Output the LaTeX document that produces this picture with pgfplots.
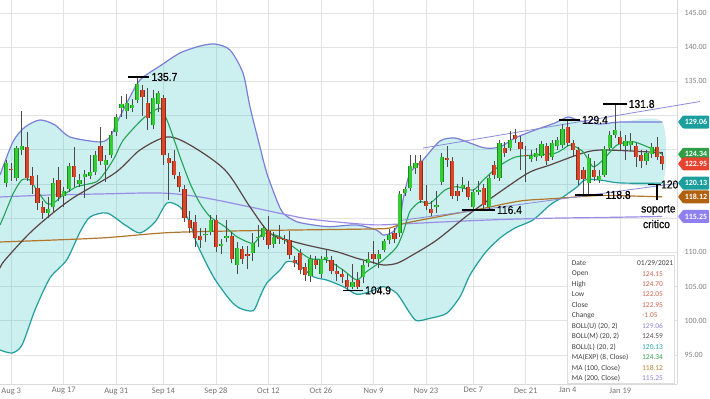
\documentclass[border=0pt]{standalone}
\usepackage{pgfplots}
\pgfplotsset{compat=1.18}
\usepackage{pgfplotstable}
\usepackage{fontspec}
\setmainfont{Carlito}
\newfontfamily\arialf[FakeStretch=0.9, FakeBold=0.4]{Liberation Sans}

\definecolor{upgreen}{HTML}{36CC36}
\definecolor{upedge}{HTML}{1F8A1F}
\definecolor{dnred}{HTML}{D9472B}
\definecolor{dnedge}{HTML}{8E2A18}
\definecolor{wick}{HTML}{4A4A4A}
\definecolor{bollu}{HTML}{7A7ED6}
\definecolor{bollm}{HTML}{5A4545}
\definecolor{bolll}{HTML}{229E9E}
\definecolor{emac}{HTML}{22A456}
\definecolor{mahund}{HTML}{B2762A}
\definecolor{matwo}{HTML}{998CE6}
\definecolor{trendc}{HTML}{8A8ADB}
\definecolor{bandfill}{HTML}{33BFBF}
\definecolor{tagteal}{HTML}{1B9E9E}
\definecolor{taggreen}{HTML}{2E9E46}
\definecolor{tagred}{HTML}{E8432E}
\definecolor{tagbrown}{HTML}{B0600E}
\definecolor{tagpurple}{HTML}{8E80EE}
\definecolor{lvohlc}{HTML}{D2674E}
\definecolor{lvbu}{HTML}{8F86D9}
\definecolor{lvbm}{HTML}{5A4A4A}
\definecolor{lvbl}{HTML}{27A8A8}
\definecolor{lvema}{HTML}{3AA552}
\definecolor{lvma1}{HTML}{C0802E}
\definecolor{lvma2}{HTML}{8F84E4}

\pgfplotstableread{
i o h l c
-1 120.2 123.5 119.5 123.1
1 120.9 125.6 120.5 125.3
2 125.0 130.6 124.2 125.5
7 115.8 118.1 115.0 116.3
8 116.6 120.9 115.8 120.1
10 118.2 119.6 116.7 119.0
11 119.2 123.0 118.8 122.6
13 120.0 121.5 119.5 120.6
14 121.0 122.0 118.0 121.4
15 121.2 124.2 120.8 121.7
16 121.8 124.8 121.3 124.2
18 122.8 124.3 120.3 123.5
19 124.2 127.8 123.8 127.2
20 127.6 130.3 127.0 129.8
21 131.1 132.8 129.8 131.7
22 130.7 133.2 129.5 131.8
23 131.1 132.4 130.5 131.6
24 132.3 135.7 131.8 134.6
27 128.6 133.8 128.0 132.5
28 131.7 133.6 130.5 133.3
37 112.5 113.6 111.5 112.7
38 113.0 115.5 112.5 114.8
40 110.9 112.0 109.8 111.3
41 112.1 114.8 111.5 112.4
43 108.2 111.5 106.8 110.6
46 109.9 112.8 108.8 111.4
47 112.1 114.0 110.8 112.3
48 112.3 114.0 111.8 113.5
50 111.3 113.0 110.7 112.2
57 106.5 109.6 105.6 109.1
59 106.8 109.5 106.3 109.0
60 109.1 110.4 108.5 109.3
65 105.0 108.3 104.7 105.7
67 106.4 108.7 105.5 108.2
68 108.5 110.0 107.8 109.1
70 109.1 110.3 107.7 109.7
71 110.4 112.0 110.0 111.6
72 111.8 113.4 111.2 112.6
74 112.8 119.0 112.3 118.5
75 118.7 119.6 118.3 119.2
76 119.4 124.2 119.0 122.6
77 122.3 124.2 121.5 123.0
81 116.7 119.0 115.7 116.9
82 120.3 124.5 119.8 124.0
86 119.4 121.0 118.8 119.9
88 116.7 119.3 116.3 118.9
89 118.9 120.5 118.4 119.1
91 116.7 121.3 116.3 120.9
93 120.9 126.5 120.5 126.0
95 125.2 127.8 124.8 126.4
99 123.7 125.0 123.2 124.1
100 123.9 125.2 123.4 124.5
101 124.1 126.3 123.8 125.8
103 124.0 126.5 123.5 126.0
104 125.5 126.8 125.0 126.4
105 125.7 128.8 125.3 128.1
110 120.1 124.4 118.45 123.8
112 120.6 122.0 120.2 121.2
113 121.3 125.5 121.0 125.1
114 125.2 127.8 124.8 127.2
115 127.2 131.7 126.7 127.9
117 125.5 127.2 123.5 126.3
118 125.7 127.5 124.8 126.3
121 123.3 125.0 122.8 124.5
122 124.4 126.0 123.8 125.4
}\upcandles

\pgfplotstableread{
i o h l c
0 122.2 123.0 120.5 122.0
3 125.4 127.6 120.5 120.9
4 121.2 122.5 118.5 119.9
5 119.4 121.3 116.2 117.2
6 116.6 117.5 114.9 115.8
9 120.6 122.5 117.5 118.1
12 122.7 125.4 119.6 121.0
17 125.6 128.3 122.8 123.3
25 133.7 134.4 130.0 132.7
26 131.8 134.0 127.9 129.6
29 132.5 133.0 122.8 124.2
30 123.8 124.5 117.7 123.1
31 123.3 125.0 120.8 121.3
32 121.1 121.8 118.8 119.5
33 119.2 119.8 114.5 115.0
34 114.7 116.0 112.9 113.5
35 114.5 115.5 110.8 112.1
36 112.4 113.5 110.7 111.8
39 114.8 115.5 110.0 110.8
42 112.4 113.0 108.5 109.1
44 110.5 111.0 108.3 109.0
45 109.7 111.0 107.5 109.5
49 113.2 115.3 110.5 111.1
51 112.3 114.0 111.3 112.0
52 112.0 112.6 111.3 111.8
53 111.8 113.2 109.0 109.6
54 108.9 109.5 107.8 108.5
55 109.9 110.5 106.8 107.4
56 107.9 108.5 105.8 106.7
58 108.9 109.5 107.6 108.2
61 108.9 109.5 106.8 107.3
62 107.3 108.3 105.8 106.8
63 106.9 107.5 105.5 106.4
64 106.0 106.9 104.45 105.0
66 106.0 107.2 104.6 105.0
69 109.8 111.6 108.3 109.1
73 112.9 113.5 111.4 111.9
78 123.4 124.2 117.2 117.7
79 117.5 119.9 116.2 116.8
80 116.3 117.5 115.3 115.7
83 123.8 125.5 122.5 123.5
84 123.3 124.0 117.8 118.2
85 119.0 120.0 117.5 118.3
87 119.5 120.5 117.7 118.1
90 119.4 120.0 116.3 116.9
92 122.8 123.3 120.8 121.3
94 125.2 126.2 124.0 124.5
96 127.2 128.0 126.0 126.6
97 126.2 127.0 122.0 125.1
98 124.3 125.5 120.3 124.1
102 125.5 126.0 122.8 123.3
106 128.4 129.4 125.5 126.0
107 126.0 126.5 124.0 125.0
108 125.0 125.4 119.8 120.6
109 122.0 122.5 118.45 120.8
111 122.1 123.3 120.4 121.0
116 126.9 127.8 125.0 125.8
119 125.5 126.0 122.5 124.0
120 124.2 125.0 122.4 123.3
123 125.4 126.9 123.5 123.9
124 124.15 124.70 122.05 122.95
}\downcandles

\newcommand{\annfont}{\arialf\fontsize{11.5}{12}\selectfont}
\newcommand{\lfont}{\fontsize{7.5}{8}\selectfont}
\newcommand{\annot}[4]{%
  \draw[line width=1.7bp, black] (axis cs:#1,#3) -- (axis cs:#2,#3);
  \node[anchor=west, inner sep=0pt, font=\annfont] at ([xshift=2bp]axis cs:#2,#3) {#4};}
\newcommand{\ptag}[3]{%
  \fill[#2, rounded corners=0.8bp] ([xshift=1bp]axis cs:126.81,#1) -- ++(5bp,6.5bp) -- ++(26bp,0bp) -- ++(0bp,-13bp) -- ++(-26bp,0bp) -- cycle;
  \node[font=\bfseries\fontsize{8}{9}\selectfont, text=white, inner sep=0pt] at ([xshift=19bp]axis cs:126.81,#1) {#3};}
\newcommand{\lrow}[4]{%
  \node[anchor=west, inner sep=0pt, font=\lfont, text=black!75] at (axis cs:106.75,#1) {#2};
  \node[anchor=west, inner sep=0pt, font=\lfont, text=#3] at (axis cs:120.14,#1) {#4};}

\begin{document}
\begin{tikzpicture}
\useasboundingbox (0,0) rectangle (710bp,399bp);
\begin{axis}[
  at={(0bp,15bp)}, anchor=south west,
  scale only axis, width=677bp, height=384bp,
  xmin=-2.143, xmax=126.81, ymin=90.76, ymax=146.90,
  clip=false,
  axis x line*=bottom, axis y line*=right,
  axis line style={draw=black!15, line width=0.8bp},
  major tick length=0pt,
  xtick={0,10,20,29,39,49,59,69,79,88,98,106,116},
  xticklabels={Aug 3,Aug 17,Aug 31,Sep 14,Sep 28,Oct 12,Oct 26,Nov 9,Nov 23,Dec 7,Dec 21,Jan 4,Jan 19},
  ytick={95,100,...,145},
  yticklabels={95.00,100.00,105.00,110.00,,,,,135.00,140.00,145.00},
  yticklabel style={font=\fontsize{8}{9}\selectfont, text=black!50, xshift=4bp},
  xticklabel style={font=\fontsize{8.5}{9}\selectfont, text=black!55},
  grid=major, grid style={draw=black!11, line width=0.7bp},
]
% Bollinger band fill (upper forward, lower backward)
\addplot[fill=bandfill, fill opacity=0.25, draw=none, smooth, tension=0.45] coordinates {
(-2.14,121.32) (0.33,126.18) (2.62,128.33) (5.48,129.36) (8.33,128.63) (11.19,126.87)
(16.9,126.14) (18.81,126.87) (20.08,128.87) (21.99,131.80) (24.52,135.20) (28.33,137.25)
(32.14,139.15) (35.95,140.17) (38.81,140.47) (41.67,139.59) (44.14,136.23) (45.48,131.26)
(47.38,125.41) (48.67,121.61) (50.56,117.66) (51.82,115.71) (54.37,114.49) (57.53,114.01)
(60.71,113.76) (65.8,114.01) (69.61,113.27) (70.87,112.54) (72.77,113.03) (74.05,114.74)
(74.62,117.66) (75.95,121.61) (78.43,123.51) (81.67,126.29)
(84.52,126.72) (87.38,125.99) (90.24,125.26) (93.1,125.41) (95.95,126.72) (99.76,127.89)
(103.57,128.92) (106.05,129.79) (108.33,129.21) (112.14,128.77) (115.95,129.06) (124,129.06)
(124,120.13) (115.95,120.15) (112.14,120.58) (109.29,120.58) (107.76,119.56) (105.1,118.10)
(102.62,116.93) (99.38,114.74) (95.95,113.57) (93.1,112.10) (90.24,109.91) (87.38,106.70)
(85.48,103.52) (82.94,101.10) (79.76,100.36) (77.23,100.01) (75.95,101.10) (73.42,104.02)
(70.87,104.99) (68.33,104.25) (65.8,103.87) (63.25,104.99) (60.09,105.96) (57.53,106.45)
(54.37,108.40) (52.47,108.64) (51.19,107.43) (48.66,105.48) (47.38,103.52) (46.1,101.48)
(43.57,101.83) (41.67,103.04) (38.49,106.45) (35.32,111.33) (34.05,114.30) (32.14,116.64)
(29.67,117.22) (27.38,114.44) (24.52,112.84)
(21.67,114.01) (18.24,115.76) (15.0,115.17) (13.1,112.98) (10.56,108.89) (7.38,106.26)
(4.52,101.58) (2.05,96.46) (0.14,95.29) (-2.14,95.73)
} -- cycle;
% Bollinger upper
\addplot[draw=bollu, line width=1.2bp, smooth, tension=0.45] coordinates {
(-2.14,121.32) (0.33,126.18) (2.62,128.33) (5.48,129.36) (8.33,128.63) (11.19,126.87)
(16.9,126.14) (18.81,126.87) (20.08,128.87) (21.99,131.80) (24.52,135.20) (28.33,137.25)
(32.14,139.15) (35.95,140.17) (38.81,140.47) (41.67,139.59) (44.14,136.23) (45.48,131.26)
(47.38,125.41) (48.67,121.61) (50.56,117.66) (51.82,115.71) (54.37,114.49) (57.53,114.01)
(60.71,113.76) (65.8,114.01) (69.61,113.27) (70.87,112.54) (72.77,113.03) (74.05,114.74)
(74.62,117.66) (75.95,121.61) (78.43,123.51) (81.67,126.29)
(84.52,126.72) (87.38,125.99) (90.24,125.26) (93.1,125.41) (95.95,126.72) (99.76,127.89)
(103.57,128.92) (106.05,129.79) (108.33,129.21) (112.14,128.77) (115.95,129.06) (124,129.06)
};
% Bollinger lower
\addplot[draw=bolll, line width=1.2bp, smooth, tension=0.45] coordinates {
(-2.14,95.73) (0.14,95.29) (2.05,96.46) (4.52,101.58) (7.38,106.26) (10.56,108.89)
(13.1,112.98) (15.0,115.17) (18.24,115.76) (21.67,114.01) (24.52,112.84) (27.38,114.44)
(29.67,117.22) (32.14,116.64) (34.05,114.30) (35.32,111.33) (38.49,106.45) (41.67,103.04)
(43.57,101.83) (46.1,101.48) (47.38,103.52) (48.66,105.48) (51.19,107.43) (52.47,108.64)
(54.37,108.40) (57.53,106.45) (60.09,105.96) (63.25,104.99) (65.8,103.87) (68.33,104.25)
(70.87,104.99) (73.42,104.02) (75.95,101.10) (77.23,100.01) (79.76,100.36) (82.94,101.10)
(85.48,103.52) (87.38,106.70) (90.24,109.91)
(93.1,112.10) (95.95,113.57) (99.38,114.74) (102.62,116.93) (105.1,118.10) (107.76,119.56)
(109.29,120.58) (112.14,120.58) (115.95,120.15) (124,120.13)
};
% MA 200
\addplot[draw=matwo, line width=1.2bp, smooth] coordinates {
(-2.14,118.10) (7.38,118.39) (16.9,118.54) (28.33,118.68) (35.95,118.10) (45.48,116.64)
(52.47,115.50) (57.53,114.80) (68.33,114.05) (74.05,114.15) (83.57,114.50) (93.1,114.80)
(102.62,115.00) (112.14,115.10) (124,115.25)
};
% MA 100
\addplot[draw=mahund, line width=1.2bp, smooth] coordinates {
(-2.14,111.52) (16.9,112.10) (30.24,112.90) (47.38,113.20) (68.33,113.42) (72.14,113.57)
(74.62,114.20) (82.62,115.40) (89.29,116.34) (96.9,117.51) (103.57,117.88) (112.14,118.32)
(117.86,118.25) (124,118.12)
};
% BOLL middle
\addplot[draw=bollm, line width=1.2bp, smooth] coordinates {
(-2.14,107.7) (-1.19,108.89) (4.14,113.27) (11.19,117.66) (19.76,121.61) (24.52,124.97)
(29.67,126.87) (34.05,125.70) (40.71,122.05) (45.48,116.64) (49.29,112.80) (53.73,111.58)
(57.53,110.85) (62.0,110.10) (65.8,109.15) (68.33,108.65) (70.87,108.16) (73.42,108.40)
(75.95,109.40) (81.04,111.80) (87.38,115.70) (94.43,119.56)
(98.81,121.75) (102.62,122.78) (108.9,124.53) (112.71,124.97) (121.67,124.68) (124,124.59)
};
% EMA 8
\addplot[draw=emac, line width=1.1bp, smooth, tension=0.4] coordinates {
(-2.14,114.0) (-1.19,115.71) (0.39,118.64) (1.99,120.58) (3.57,120.58) (4.85,119.12)
(6.75,117.18) (8.01,117.18) (9.91,118.39) (12.47,119.60) (16.28,120.34) (18.18,122.05)
(19.76,123.99) (21.34,126.43) (25.15,129.60) (28.33,131.07) (29.91,128.87) (32.14,123.99)
(34.05,120.10) (35.95,117.18) (37.86,115.22) (40.71,113.76) (42.94,112.3) (46.1,111.3)
(48.02,112.8) (51.19,112.3) (53.73,110.8) (56.9,109.1) (60.09,108.9) (63.25,107.4)
(65.8,105.96) (67.7,107.2) (70.87,108.9) (73.42,110.8) (74.68,113.0) (75.95,116.0)
(77.86,117.41) (79.76,117.18) (82.62,119.12) (84.85,119.60) (88.01,119.12)
(89.91,120.58) (92.77,122.53) (96.28,123.99) (103.57,124.49) (106.43,125.70) (108.9,124.72)
(110.81,122.53) (112.71,123.51) (115.38,125.70) (118.43,126.18) (121.67,125.27) (124,124.34)
};
% trend lines
\addplot[draw=trendc, line width=0.8bp] coordinates {(78.43,125.26) (131.19,132.06)};
\addplot[draw=trendc, line width=0.8bp] coordinates {(74.05,114.66) (126.62,120.07)};
% wicks
\addplot[draw=none, forget plot, error bars/.cd, y dir=plus, y explicit, error mark=none,
  error bar style={draw=wick, line width=0.9bp}]
  table[x=i, y=l, y error plus expr=\thisrow{h}-\thisrow{l}] \upcandles;
\addplot[draw=none, forget plot, error bars/.cd, y dir=plus, y explicit, error mark=none,
  error bar style={draw=wick, line width=0.9bp}]
  table[x=i, y=l, y error plus expr=\thisrow{h}-\thisrow{l}] \downcandles;
% bodies
\addplot[draw=none, forget plot, error bars/.cd, y dir=plus, y explicit, error mark=none,
  error bar style={draw=upedge, line width=4.2bp}]
  table[x=i, y=o, y error plus expr=\thisrow{c}-\thisrow{o}] \upcandles;
\addplot[draw=none, forget plot, error bars/.cd, y dir=plus, y explicit, error mark=none,
  error bar style={draw=upgreen, line width=3.0bp}]
  table[x=i, y=o, y error plus expr=\thisrow{c}-\thisrow{o}] \upcandles;
\addplot[draw=none, forget plot, error bars/.cd, y dir=plus, y explicit, error mark=none,
  error bar style={draw=dnedge, line width=4.2bp}]
  table[x=i, y=c, y error plus expr=\thisrow{o}-\thisrow{c}] \downcandles;
\addplot[draw=none, forget plot, error bars/.cd, y dir=plus, y explicit, error mark=none,
  error bar style={draw=dnred, line width=3.0bp}]
  table[x=i, y=c, y error plus expr=\thisrow{o}-\thisrow{c}] \downcandles;

% annotations
\annot{22.3}{26.3}{135.65}{135.7}
\annot{63.19}{67.0}{104.45}{104.9}
\annot{85.8}{92.1}{116.2}{116.4}
\annot{107.4}{112.8}{118.4}{118.8}
\annot{104.4}{108.3}{129.36}{129.4}
\annot{112.8}{117.2}{131.7}{131.8}
\draw[line width=1.7bp] (axis cs:121.3,119.93) -- (axis cs:123.7,119.93);
\draw[line width=1.2bp] (axis cs:123.0,119.93) -- (axis cs:123.0,117.66);
\node[anchor=west, inner sep=0pt, font=\annfont] at (axis cs:123.75,119.93) {120};
\node[anchor=west, inner sep=0pt, font=\annfont] at (axis cs:119.95,116.2) {soporte};
\node[anchor=west, inner sep=0pt, font=\annfont] at (axis cs:120.3,114.15) {critico};

% info box
\draw[fill=white, draw=black!13, line width=0.6bp] (axis cs:105.86,109.52) rectangle (axis cs:126.24,90.91);
\node[anchor=west, inner sep=0pt, font=\lfont, text=black!75] at (axis cs:106.75,108.41) {Date};
\node[anchor=west, inner sep=0pt, font=\lfont, text=black!75] at (axis cs:119.19,108.41) {01/29/2021};
\lrow{106.88}{Open}{lvohlc}{124.15}
\lrow{105.35}{High}{lvohlc}{124.70}
\lrow{103.83}{Low}{lvohlc}{122.05}
\lrow{102.30}{Close}{lvohlc}{122.95}
\lrow{100.77}{Change}{lvohlc}{-1.05}
\lrow{99.24}{BOLL(U) (20, 2)}{lvbu}{129.06}
\lrow{97.71}{BOLL(M) (20, 2)}{lvbm}{124.59}
\lrow{96.19}{BOLL(L) (20, 2)}{lvbl}{120.13}
\lrow{94.66}{MA(EXP) (8, Close)}{lvema}{124.34}
\lrow{93.13}{MA (100, Close)}{lvma1}{118.12}
\lrow{91.60}{MA (200, Close)}{lvma2}{115.25}

% price tags
\ptag{129.06}{tagteal}{129.06}
\ptag{124.34}{taggreen}{124.34}
\ptag{122.95}{tagred}{122.95}
\ptag{120.13}{tagteal}{120.13}
\ptag{118.12}{tagbrown}{118.12}
\ptag{115.25}{tagpurple}{115.25}
\end{axis}
\end{tikzpicture}
\end{document}
